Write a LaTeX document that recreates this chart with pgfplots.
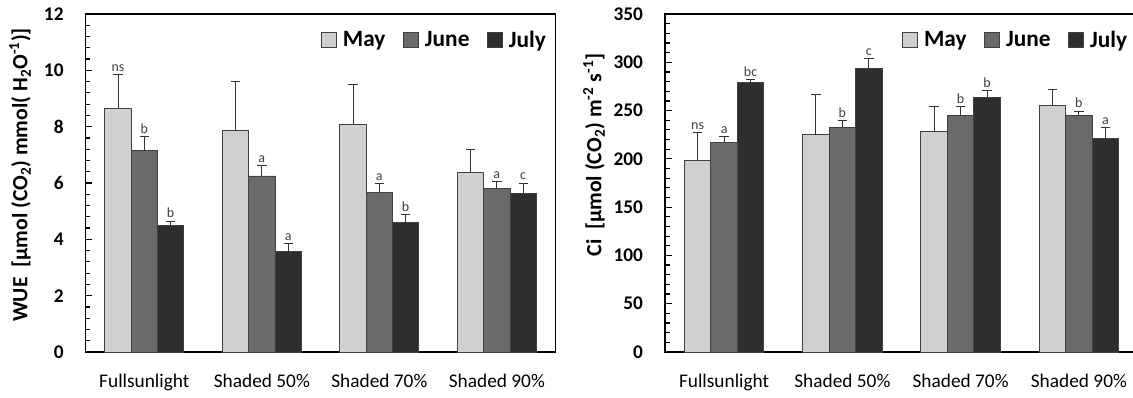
\documentclass[border=0pt]{standalone}
\usepackage{pgfplots}
\pgfplotsset{compat=1.18}
\usepackage{pgfplotstable}
\usepackage{fontspec}
\setmainfont{Carlito}

\definecolor{cMay}{HTML}{D0D0D0}
\definecolor{cJune}{HTML}{6A6A6A}
\definecolor{cJuly}{HTML}{2E2E2E}

% WUE data: x (category), value, upper error, letter
\pgfplotstableread{
x y e lab
0 8.65 1.20 ns
1 7.88 1.73 {}
2 8.07 1.42 {}
3 6.36 0.83 {}
}\wueMay
\pgfplotstableread{
x y e lab
0 7.16 0.48 b
1 6.25 0.38 a
2 5.66 0.31 a
3 5.80 0.25 a
}\wueJune
\pgfplotstableread{
x y e lab
0 4.48 0.17 b
1 3.56 0.29 a
2 4.61 0.28 b
3 5.64 0.36 c
}\wueJuly

% Ci data
\pgfplotstableread{
x y e lab
0 198.0 29.0 ns
1 225.0 42.0 {}
2 228.0 26.0 {}
3 255.0 17.0 {}
}\ciMay
\pgfplotstableread{
x y e lab
0 217.0 6.0 a
1 232.6 7.3 b
2 245.0 9.5 b
3 245.0 4.5 b
}\ciJune
\pgfplotstableread{
x y e lab
0 279.0 3.5 bc
1 294.0 10.0 c
2 263.7 7.2 b
3 220.8 11.8 a
}\ciJuly

\pgfplotsset{
  mybars/.style={
    scale only axis,
    ybar, bar width=0.224, bar shift=0pt,
    ymin=0,
    xmin=-0.5, xmax=3.5,
    xtick={0,1,2,3},
    xticklabels={Fullsunlight, Shaded 50\%, Shaded 70\%, Shaded 90\%},
    xtick style={draw=none},
    tick align=inside,
    ytick pos=left,
    minor y tick num=4,
    major tick length=5pt,
    minor tick length=3.5pt,
    every tick/.style={black, line width=0.9pt},
    axis line style={black, line width=1.2pt},
    yticklabel={\pgfmathprintnumber[assume math mode=true]{\tick}},
    yticklabel style={font=\bfseries\fontsize{14.5}{16}\selectfont, text=black, xshift=-13pt},
    xticklabel style={font=\fontsize{14.5}{16}\selectfont, text=black, yshift=-13pt},
    legend columns=3,
    legend style={draw=none, fill=none, font=\bfseries\fontsize{17.5}{19}\selectfont,
      anchor=east,
      /tikz/every odd column/.append style={column sep=3pt},
      /tikz/every even column/.append style={column sep=11pt}},
  },
  bar/.style={
    draw=black!75, line width=0.6pt, fill=#1,
    legend image code/.code={\draw[fill=#1, draw=black!75, line width=0.6pt] (0pt,-5.5pt) rectangle (11pt,5.5pt);},
    /pgfplots/error bars/y dir=plus,
    /pgfplots/error bars/y explicit,
    /pgfplots/error bars/error mark=-,
    /pgfplots/error bars/error bar style={line width=0.6pt, black!80},
    /pgfplots/error bars/error mark options={rotate=90, line width=0.6pt, black!80, mark size=3.5pt},
  },
  lbl/.style={
    nodes near coords, point meta=explicit symbolic,
    visualization depends on={\thisrow{e} \as \err},
    every node near coord/.append style={font=\fontsize{10.5}{12}\selectfont, text=black!75,
      anchor=south, inner sep=0.8pt, yshift=\err*#1+1.2pt},
  },
}

\begin{document}
\begin{tikzpicture}
\useasboundingbox (0,0) rectangle (849.75pt,297.75pt);

\begin{axis}[mybars,
  at={(64.2pt,33.75pt)}, anchor=south west,
  width=352.5pt, height=253.5pt,
  ymax=12, ytick={0,2,...,12},
  ylabel={WUE\ \ [µmol (CO\textsubscript{2}) mmol( H\textsubscript{2}O\textsuperscript{-1})]},
  every axis y label/.style={at={(axis description cs:-0.1396,0.524)}, rotate=90, anchor=center,
    font=\bfseries\fontsize{16.3}{18}\selectfont},
  legend style={at={(1,1)}, xshift=-2pt, yshift=-19.5pt},
]
\addplot[bar=cMay, lbl=21.125pt] table[x expr=\thisrow{x}-0.224, y=y, y error=e, meta=lab] {\wueMay};
\addlegendentry{May}
\addplot[bar=cJune, lbl=21.125pt] table[x=x, y=y, y error=e, meta=lab] {\wueJune};
\addlegendentry{June}
\addplot[bar=cJuly, lbl=21.125pt] table[x expr=\thisrow{x}+0.224, y=y, y error=e, meta=lab] {\wueJuly};
\addlegendentry{July}
\end{axis}

\begin{axis}[mybars,
  at={(498.75pt,33.75pt)}, anchor=south west,
  width=354.75pt, height=253.5pt,
  ymax=350, ytick={0,50,...,350},
  ylabel={Ci\ \ [µmol (CO\textsubscript{2}) m\textsuperscript{-2} s\textsuperscript{-1}]},
  every axis y label/.style={at={(axis description cs:-0.150,0.583)}, rotate=90, anchor=center,
    font=\bfseries\fontsize{16.3}{18}\selectfont},
  legend style={at={(1,1)}, xshift=-3pt, yshift=-19.5pt},
]
\addplot[bar=cMay, lbl=0.7243pt] table[x expr=\thisrow{x}-0.224, y=y, y error=e, meta=lab] {\ciMay};
\addlegendentry{May}
\addplot[bar=cJune, lbl=0.7243pt] table[x=x, y=y, y error=e, meta=lab] {\ciJune};
\addlegendentry{June}
\addplot[bar=cJuly, lbl=0.7243pt] table[x expr=\thisrow{x}+0.224, y=y, y error=e, meta=lab] {\ciJuly};
\addlegendentry{July}
\end{axis}
\end{tikzpicture}
\end{document}
